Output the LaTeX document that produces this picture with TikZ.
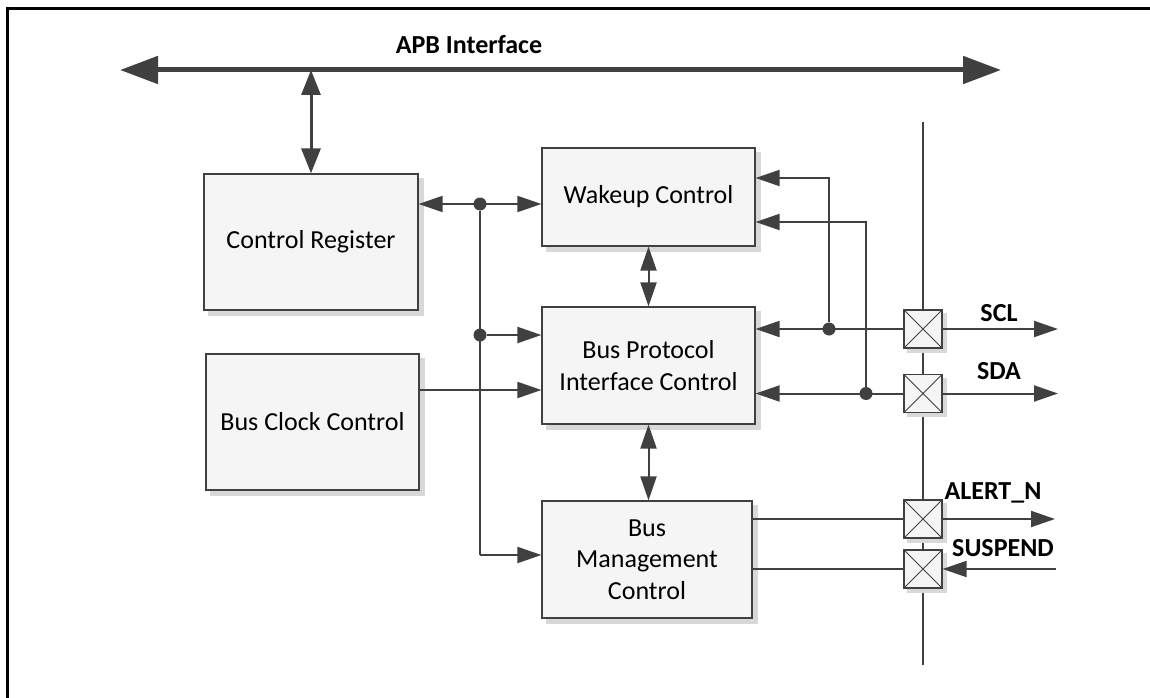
\documentclass[tikz,border=0pt]{standalone}
\usepackage{fontspec}
\setmainfont{Carlito}
\usepackage{tikz}
\usetikzlibrary{arrows.meta,positioning,calc,backgrounds}

\definecolor{linegray}{HTML}{404040}
\definecolor{shadowgray}{HTML}{D8D8D8}
\definecolor{boxfill}{HTML}{F5F5F5}

\begin{document}
\begin{tikzpicture}[x=1pt,y=-1pt,>={Triangle[length=24pt,width=16pt]},
  font=\fontsize{26}{31.7}\selectfont,line width=2pt,
  conn/.style={draw=linegray,line width=2pt},
  block/.style={draw=linegray,line width=1.2pt,fill=boxfill,text=black,
    align=center,inner sep=2pt},
  pad/.style={draw=linegray,line width=1.2pt,fill=boxfill,
    minimum size=38pt,inner sep=0pt,
    path picture={\draw[linegray,line width=1pt] (path picture bounding box.north west) -- (path picture bounding box.south east)
      (path picture bounding box.north east) -- (path picture bounding box.south west);}},
  dot/.style={circle,fill=linegray,draw=none,minimum size=13pt,inner sep=0pt},
  lbl/.style={font=\fontsize{26}{31.7}\selectfont\bfseries,text=black,inner sep=0pt}]
\useasboundingbox (0,0) rectangle (1150,698);
% frame
\draw[black,line width=3pt] (7,698) -- (7,8.5) -- (1150,8.5);
% APB bus
\coordinate (apbL) at (120,70);
\coordinate (apbR) at (1001,70);
\draw[conn,line width=5pt,{Triangle[length=38pt,width=27pt]}-{Triangle[length=38pt,width=27pt]}] (apbL) -- (apbR);
\node[lbl] (apb) at (469,45) {APB Interface};
% blocks
\node[block,minimum width=214pt,minimum height=136pt] (creg) at (311,242) {Control Register};
\node[block,minimum width=213pt,minimum height=136pt] (clk) at (312.5,422) {Bus Clock Control};
\node[block,minimum width=213pt,minimum height=98pt] (wake) at (648.5,197) {Wakeup Control};
\node[block,minimum width=213pt,minimum height=117pt] (bpic) at (648.5,365.5) {Bus Protocol\\Interface Control};
\node[block,minimum width=210pt,minimum height=117pt] (bmc) at (647,559.5) {Bus\\Management\\Control};
% pad column
\coordinate (colT) at (923,122);
\coordinate (colB) at (923,665);
\node[pad] (padscl) at (923,329) {};
\node[pad] (padsda) at (923,393.5) {};
\node[pad] (padalert) at (923,519) {};
\node[pad] (padsusp) at (923,569) {};
% shadows and pad column behind
\begin{pgfonlayer}{background}
\draw[conn] (colT) -- (colB);
\foreach \b in {creg,clk,wake,bpic,bmc}
  \fill[shadowgray] ([shift={(5,5)}]\b.north west) rectangle ([shift={(5,5)}]\b.south east);
\foreach \b in {padscl,padsda,padalert,padsusp}
  \fill[shadowgray] ([shift={(4,4)}]\b.north west) rectangle ([shift={(4,4)}]\b.south east);
\end{pgfonlayer}
% APB to control register
\draw[conn,line width=3pt,{Triangle[length=25pt,width=19pt]}-{Triangle[length=25pt,width=19pt]}] (creg.north |- apbL) -- (creg.north);
% control register fan-out
\node[dot] (j1) at (480,204) {};
\node[dot] (j2) at (480,335) {};
\coordinate (j3) at (480,555);
\draw[conn,<->] (creg.east |- j1) -- (wake.west |- j1);
\draw[conn] (j1) -- (j3);
\draw[conn,->] (j2) -- (bpic.west |- j2);
\draw[conn,->] (j3) -- (bmc.west |- j3);
\draw[conn,->] (clk.east |- 0,390) -- (bpic.west |- 0,390);
% block to block
\draw[conn,<->] (wake.south) -- (bpic.north);
\draw[conn,<->] (bpic.south) -- (bpic.south |- bmc.north);
% SCL / SDA
\node[dot] (j5) at (829,329) {};
\node[dot] (j6) at (866,393.5) {};
\draw[conn,<-] (bpic.east |- padscl) -- (padscl.west);
\draw[conn,<-] (bpic.east |- padsda) -- (padsda.west);
\draw[conn,->] (j5) |- (wake.east |- 0,178);
\draw[conn,->] (j6) |- (wake.east |- 0,222);
\coordinate (sclout) at (1058,329);
\coordinate (sdaout) at (1058,393.5);
\draw[conn,->] (padscl.east) -- (sclout);
\draw[conn,->] (padsda.east) -- (sdaout);
\node[lbl] (scl) at (999,313) {SCL};
\node[lbl] (sda) at (999,371) {SDA};
% ALERT_N / SUSPEND
\coordinate (alertout) at (1055,519);
\coordinate (suspin) at (1056,569);
\draw[conn] (bmc.east |- padalert) -- (padalert.west);
\draw[conn] (bmc.east |- padsusp) -- (padsusp.west);
\draw[conn,->] (padalert.east) -- (alertout);
\draw[conn,<-] (padsusp.east) -- (suspin);
\node[lbl] (alert) at (993,493) {ALERT\_N};
\node[lbl] (susp) at (1003,548) {SUSPEND};
\end{tikzpicture}
\end{document}
